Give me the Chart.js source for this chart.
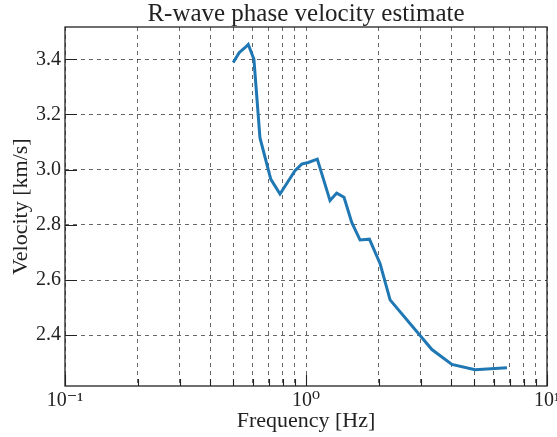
<!DOCTYPE html>
<html>
<head>
<meta charset="utf-8">
<script src="https://cdn.jsdelivr.net/npm/chart.js@4.4.1/dist/chart.umd.min.js"></script>
<style>
  html, body { margin: 0; padding: 0; background: #fff; }
  #wrap { width: 557px; height: 437px; }
</style>
</head>
<body>
<div id="wrap"><canvas id="chart"></canvas></div>
<script>
// values
const freqHz = [0.499, 0.528, 0.558, 0.576, 0.608, 0.644, 0.714, 0.780, 0.90, 0.96, 1.022, 1.114,
  1.258, 1.341, 1.438, 1.548, 1.676, 1.833, 2.03, 2.233, 3.33, 4.03, 5.03, 6.82];
const velocity = [3.388, 3.424, 3.442, 3.454, 3.40, 3.116, 2.966, 2.912, 2.996, 3.02, 3.026, 3.038,
  2.888, 2.915, 2.90, 2.809, 2.745, 2.748, 2.659, 2.528, 2.348, 2.294, 2.275, 2.282];
const xTicks = [0.1, 0.2, 0.3, 0.4, 0.5, 0.6, 0.7, 0.8, 0.9, 1, 2, 3, 4, 5, 6, 7, 8, 9, 10];
const xMajor = [0.1, 1, 10];
const xLabels = { 0.1: '10\u207B\u00B9', 1: '10\u2070', 10: '10\u00B9' };
const yTicks = [2.4, 2.6, 2.8, 3.0, 3.2, 3.4];

const SERIF = '"Liberation Serif", "DejaVu Serif", serif';
const ink = '#222';

// inward ticks + full frame, like the matplotlib original
const frame = {
  id: 'frame',
  afterDraw(chart) {
    const { ctx, chartArea: a, scales: { x, y } } = chart;
    ctx.save();
    ctx.strokeStyle = ink;
    ctx.lineWidth = 1.1;
    ctx.beginPath();
    for (const v of xTicks) {
      const px = Math.round(x.getPixelForValue(v)) + 0.5;
      const len = xMajor.includes(v) ? 11 : 7;
      ctx.moveTo(px, a.bottom);
      ctx.lineTo(px, a.bottom - len);
    }
    for (const v of yTicks) {
      const py = Math.round(y.getPixelForValue(v)) + 0.5;
      ctx.moveTo(a.left, py);
      ctx.lineTo(a.left + 12, py);
    }
    ctx.stroke();
    ctx.lineWidth = 1.3;
    ctx.strokeRect(a.left, a.top, a.right - a.left, a.bottom - a.top);
    ctx.restore();
  }
};

const gridDash = [4, 4];

new Chart(document.getElementById('chart'), {
  type: 'line',
  data: {
    datasets: [{
      data: freqHz.map((f, i) => ({ x: f, y: velocity[i] })),
      borderColor: '#1f77b4',
      borderWidth: 3,
      pointRadius: 0,
      tension: 0,
      fill: false,
    }]
  },
  options: {
    responsive: true, maintainAspectRatio: false, animation: false,
    layout: { padding: { left: 0, right: 10, top: 0, bottom: 0 } },
    plugins: {
      legend: { display: false },
      tooltip: { enabled: false },
      title: {
        display: true, fullSize: false,
        text: 'R-wave phase velocity estimate',
        color: ink,
        font: { family: SERIF, size: 25, weight: 'normal', lineHeight: 1.0 },
        padding: { top: 2, bottom: 0 },
      },
    },
    scales: {
      x: {
        type: 'logarithmic', min: 0.1, max: 10,
        afterBuildTicks: s => { s.ticks = xTicks.map(v => ({ value: v })); },
        // let the edge labels hang over, as in the original
        afterFit: s => { s.height = 51; s.paddingLeft = 0; s.paddingRight = 0; },
        grid: { color: 'rgba(0,0,0,0.75)', lineWidth: 0.8, drawTicks: false },
        border: { display: false, dash: gridDash },
        ticks: {
          autoSkip: false, maxRotation: 0, padding: 3, color: ink,
          font: { family: SERIF, size: 20 },
          callback: v => xLabels[v] || '',
        },
        title: {
          display: true, text: 'Frequency [Hz]', color: ink,
          font: { family: SERIF, size: 22 },
          padding: { top: 0, bottom: 3 },
        },
      },
      y: {
        min: 2.216, max: 3.517,
        afterBuildTicks: s => { s.ticks = yTicks.map(v => ({ value: v })); },
        afterFit: s => { s.width = 65; },
        grid: { color: 'rgba(0,0,0,0.75)', lineWidth: 0.8, drawTicks: false },
        border: { display: false, dash: gridDash },
        ticks: {
          padding: 4, color: ink,
          font: { family: SERIF, size: 20 },
          callback: v => v.toFixed(1),
        },
        title: {
          display: true, text: 'Velocity [km/s]', color: ink,
          font: { family: SERIF, size: 22 },
          padding: { top: 8, bottom: 0 },
        },
      },
    },
  },
  plugins: [frame],
});
</script>
</body>
</html>
